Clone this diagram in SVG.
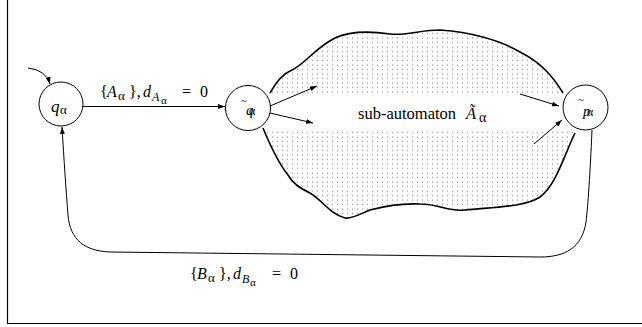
<svg xmlns="http://www.w3.org/2000/svg" width="642" height="327" viewBox="0 0 642 327" font-family="'Liberation Serif', 'DejaVu Serif', serif">
<style>
.node{fill:#fff;stroke:#000;stroke-width:1}
.edge{fill:none;stroke:#000;stroke-width:1}
.blob{fill:none;stroke:#000;stroke-width:1.6}
.t{font-family:'Liberation Serif','DejaVu Serif',serif;fill:#000}
.it{font-style:italic}
</style>
<defs>
<marker id="arr" markerUnits="userSpaceOnUse" markerWidth="8" markerHeight="6" refX="7" refY="3" orient="auto">
<path d="M0,0.6 L7,3 L0,5.4 z" fill="#000"/>
</marker>
<pattern id="dots" patternUnits="userSpaceOnUse" width="5" height="4.5">
<rect x="2" y="1.5" width="1" height="1" fill="#777"/>
</pattern>
<clipPath id="blobclip">
<path d="M270,93 C276,82 282,74 292,70 C305,64 315,48 335,38 C350,31 370,31 390,34 C405,36 420,30 440,30 C470,32 500,40 520,52 C540,62 552,75 563,93 L575,133 C563,158 556,185 540,197 C525,207 495,207 465,210 C448,212 440,204 420,204 C400,203 385,206 370,210 C360,214 352,219 345,218 C330,214 322,200 310,193 C300,188 293,184 288,175 C280,165 270,145 263,128 Z"/>
</clipPath>
</defs>
<rect width="642" height="327" fill="#fff"/>
<g id="frame">
<path d="M7.5,0 V323.5 H642" fill="none" stroke="#000" stroke-width="1.2"/>
</g>
<g id="subautomaton">
<g clip-path="url(#blobclip)">
<rect x="250" y="20" width="340" height="210" fill="url(#dots)"/>
<rect x="250" y="94" width="340" height="35" fill="#fff"/>
</g>
<path class="blob" d="M270,93 C276,82 282,74 292,70 C305,64 315,48 335,38 C350,31 370,31 390,34 C405,36 420,30 440,30 C470,32 500,40 520,52 C540,62 552,75 563,93"/>
<path class="blob" d="M263,128 C270,145 280,165 288,175 C293,184 300,188 310,193 C322,200 330,214 345,218 C352,219 360,214 370,210 C385,206 400,203 420,204 C440,204 448,212 465,210 C495,207 525,207 540,197 C556,185 563,158 575,133"/>
<text class="t" x="358" y="119" font-size="16.5">sub-automaton</text>
<text class="t it" x="466" y="119" font-size="16.5">Ã</text>
<text class="t" x="479" y="122" font-size="14">α</text>
</g>
<g id="connectors">
<path class="edge" d="M28,68 Q46,70 50,84" marker-end="url(#arr)"/>
<path class="edge" d="M83,106.5 H225" marker-end="url(#arr)"/>
<path class="edge" d="M270,106 L317,86" marker-end="url(#arr)"/>
<path class="edge" d="M270,113 L313,123" marker-end="url(#arr)"/>
<path class="edge" d="M520,94 L559,106" marker-end="url(#arr)"/>
<path class="edge" d="M534,144 L562,120" marker-end="url(#arr)"/>
<path class="edge" d="M592,130 C590,175 588,205 586,222 C582,248 565,257 540,257 L110,252 C85,251 70,240 68,215 C66,190 64,160 62,127" marker-end="url(#arr)"/>
<g id="labelA">
<text class="t" x="100" y="97" font-size="16">{</text>
<text class="t it" x="107" y="97" font-size="16">A</text>
<text class="t" x="118" y="100" font-size="13">α</text>
<text class="t" x="129" y="97" font-size="16">},</text>
<text class="t it" x="143" y="97" font-size="16">d</text>
<text class="t it" x="152" y="101" font-size="12">A</text>
<text class="t" x="161" y="104" font-size="11">α</text>
<text class="t" x="182" y="97" font-size="16">=</text>
<text class="t" x="200" y="97" font-size="16">0</text>
</g>
<g id="labelB">
<text class="t" x="190" y="279" font-size="16">{</text>
<text class="t it" x="197" y="279" font-size="16">B</text>
<text class="t" x="208" y="282" font-size="13">α</text>
<text class="t" x="219" y="279" font-size="16">},</text>
<text class="t it" x="233" y="279" font-size="16">d</text>
<text class="t it" x="242" y="283" font-size="12">B</text>
<text class="t" x="250" y="286" font-size="11">α</text>
<text class="t" x="272" y="279" font-size="16">=</text>
<text class="t" x="290" y="279" font-size="16">0</text>
</g>
</g>
<g id="q">
<circle class="node" cx="61" cy="104" r="22"/>
<text class="t it" x="51" y="112" font-size="17">q</text>
<text class="t" x="60" y="114" font-size="13">α</text>
</g>
<g id="qtilde">
<circle class="node" cx="248" cy="108" r="22.5"/>
<text class="t" x="241" y="104" font-size="11">~</text>
<text class="t it" x="246" y="115" font-size="15">q</text>
<text class="t" x="249" y="115" font-size="12">α</text>
</g>
<g id="ptilde">
<circle class="node" cx="585.5" cy="107.5" r="22.5"/>
<text class="t" x="578" y="103" font-size="11">~</text>
<text class="t it" x="583" y="116" font-size="15">p</text>
<text class="t" x="587" y="116" font-size="12">α</text>
</g>
</svg>
